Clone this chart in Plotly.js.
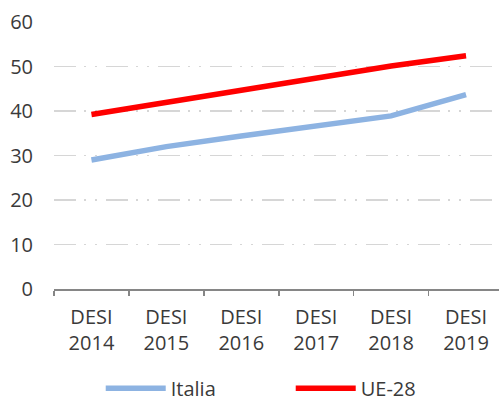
<!DOCTYPE html>
<html><head><meta charset="utf-8">
<script src="https://cdn.plot.ly/plotly-3.0.1.min.js"></script>
<style>html,body{margin:0;padding:0;background:#fff}#chart{width:499px;height:402px}</style>
</head><body><div id="chart"></div>
<script>
var categories = ["DESI<br>2014","DESI<br>2015","DESI<br>2016","DESI<br>2017","DESI<br>2018","DESI<br>2019"];
var italia = [29.0, 32.0, 34.4, 36.8, 38.9, 43.7];
var ue28 = [39.2, 41.9, 44.5, 47.2, 50.1, 52.4];
var yTicks = [0,10,20,30,40,50,60];

var font = "Open Sans, Lato, sans-serif";
var traces = [
  {x: categories, y: italia, name: "Italia", type: "scatter", mode: "lines",
   line: {color: "#8db3e2", width: 5.5}},
  {x: categories, y: ue28, name: "UE-28", type: "scatter", mode: "lines",
   line: {color: "#ff0000", width: 5.5}}
];
var layout = {
  width: 499, height: 402,
  margin: {l: 54, r: 0, t: 22, b: 113, autoexpand: false},
  paper_bgcolor: "#fff", plot_bgcolor: "#fff",
  font: {family: font, size: 20, color: "#3a3a3a"},
  showlegend: true,
  legend: {orientation: "h", x: 0.105, xanchor: "left", y: -0.372, yanchor: "middle",
           entrywidth: 115, itemwidth: 60, tracegroupgap: 0, font: {size: 20, color: "#3a3a3a"}},
  xaxis: {type: "category", range: [-0.5, 5.44], showgrid: false, zeroline: false,
          showline: true, linecolor: "#868686", linewidth: 1.5,
          ticks: "outside", ticklen: 5, tickcolor: "#868686", tickwidth: 1.5,
          tickson: "boundaries", ticklabelstandoff: 9, tickfont: {size: 20, color: "#3a3a3a"}, fixedrange: true},
  yaxis: {range: [0, 60], tickvals: yTicks, showgrid: true, gridcolor: "#d6d6d6", gridwidth: 1.5,
          griddash: "22px,8px,2px,9px,2px,9px", zeroline: false, showline: false,
          ticks: "", ticklabelstandoff: 20, tickfont: {size: 20, color: "#3a3a3a"}, fixedrange: true}
};
Plotly.newPlot("chart", traces, layout, {displayModeBar: false, staticPlot: true});
</script></body></html>
